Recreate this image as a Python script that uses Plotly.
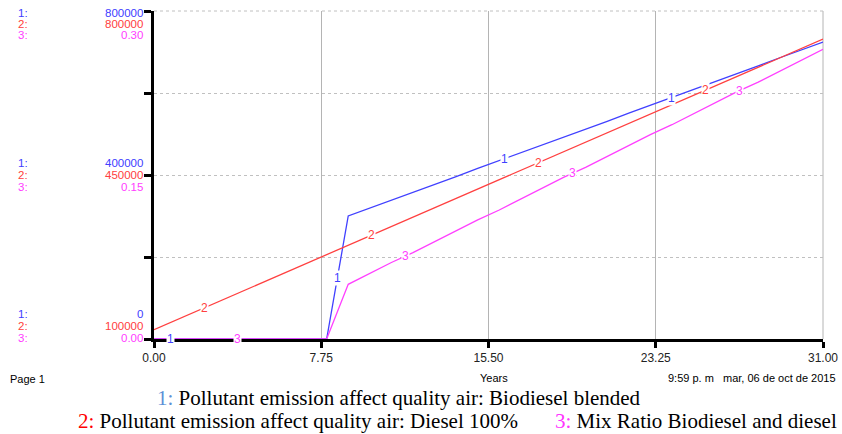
import numpy as np
import plotly.graph_objects as go

# ---------------- data ----------------
years = list(range(0, 32))
biodiesel_blended = [0, 0, 0, 0, 0, 0, 0, 0, 0,
                     300000, 319000, 339000, 358000, 377000, 396000, 416000, 435000,
                     454000, 474000, 493000, 512000, 531000, 551000, 570000, 589000,
                     609000, 628000, 647000, 666000, 686000, 705000, 724000]
diesel_100 = [120000, 140000, 160000, 180000, 200000, 220000, 240000, 260000,
              280000, 300000, 320000, 340000, 360000, 380000, 400000, 420000,
              440000, 460000, 480000, 500000, 520000, 540000, 560000, 580000,
              600000, 620000, 640000, 660000, 680000, 700000, 720000, 740000]
mix_ratio = [0, 0, 0, 0, 0, 0, 0, 0, 0,
             0.050, 0.060, 0.070, 0.079, 0.089, 0.099, 0.109, 0.118,
             0.128, 0.138, 0.148, 0.157, 0.167, 0.177, 0.187, 0.196,
             0.206, 0.216, 0.226, 0.235, 0.245, 0.255, 0.265]

x_ticks = [0, 7.75, 15.5, 23.25, 31]
x_tick_labels = ["0.00", "7.75", "15.50", "23.25", "31.00"]

y1_range = [0, 800000]
y2_range = [100000, 800000]
y3_range = [0, 0.30]
y1_labels = ["0", "400000", "800000"]
y2_labels = ["100000", "450000", "800000"]
y3_labels = ["0.00", "0.15", "0.30"]

label_years = [0.75, 8.5, 16.25, 24.0]  # positions of the "1" markers on lines
label_step = 1.57

legend1 = "Pollutant emission affect quality air: Biodiesel blended"
legend2 = "Pollutant emission affect quality air: Diesel 100%"
legend3 = "Mix Ratio Biodiesel and diesel"

# ---------------- style ----------------
C1, C2, C3 = "#4040ff", "#ff4040", "#ff40ff"
W, H = 842, 434
L, R, T, B = 154, 19, 11, 95
PW = W - L - R
PH = H - T - B
SANS = "Liberation Sans, Arial, sans-serif"
SERIF = "Liberation Serif, Times New Roman, serif"

fig = go.Figure()
fig.add_trace(go.Scatter(x=years, y=biodiesel_blended, mode="lines",
                         line=dict(color=C1, width=1.3), yaxis="y", name="1"))
fig.add_trace(go.Scatter(x=years, y=diesel_100, mode="lines",
                         line=dict(color=C2, width=1.3), yaxis="y2", name="2"))
fig.add_trace(go.Scatter(x=years, y=mix_ratio, mode="lines",
                         line=dict(color=C3, width=1.3), yaxis="y3", name="3"))

ann = []

# line number markers
series = [(biodiesel_blended, "y", C1, "1"), (diesel_100, "y2", C2, "2"), (mix_ratio, "y3", C3, "3")]
for i, (vals, yref, col, txt) in enumerate(series):
    for base in label_years:
        t = base + i * label_step
        v = float(np.interp(t, years, vals))
        ann.append(dict(x=t, y=v, xref="x", yref=yref, text=txt, showarrow=False,
                        font=dict(family=SANS, size=12, color=col),
                        bgcolor="white", borderpad=0, xanchor="center", yanchor="middle"))

# stacked axis labels
tick_vals = {"y": [y1_range[0], 400000, y1_range[1]],
             "y2": [y2_range[0], 450000, y2_range[1]],
             "y3": [y3_range[0], 0.15, y3_range[1]]}
shifts = [[25, 12, -2], [13, 0, -13], [1, -12, -24]]  # per series, per level(bottom, mid, top)
texts = [y1_labels, y2_labels, y3_labels]
cols = [C1, C2, C3]
refs = ["y", "y2", "y3"]
for s in range(3):
    for lvl in range(3):
        ann.append(dict(x=0, xref="paper", y=tick_vals[refs[s]][lvl], yref=refs[s],
                        text=texts[s][lvl], showarrow=False, xanchor="right", yanchor="middle",
                        xshift=-9, yshift=shifts[s][lvl],
                        font=dict(family=SANS, size=11.5, color=cols[s])))
        ann.append(dict(x=0, xref="paper", y=tick_vals[refs[s]][lvl], yref=refs[s],
                        text=f"{s+1}:", showarrow=False, xanchor="left", yanchor="middle",
                        xshift=16 - L, yshift=shifts[s][lvl],
                        font=dict(family=SANS, size=11.5, color=cols[s])))


def pix(px, py, text, size, family, color="black", anchor="left"):
    return dict(x=0, y=0, xref="paper", yref="paper", xshift=px - L, yshift=-(py - (T + PH)),
                text=text, showarrow=False, xanchor=anchor, yanchor="middle",
                font=dict(family=family, size=size, color=color))


ann.append(pix(8, 379, "Page 1", 11, SANS))
ann.append(pix(494, 378, "Years", 11, SANS, anchor="center"))
ann.append(pix(838, 378, "9:59 p. m&nbsp;&nbsp;&nbsp;mar, 06 de oct de 2015", 11, SANS, anchor="right"))
ann.append(pix(155, 398, f"<span style='color:#5b8fd6'>1:</span> {legend1}", 21, SERIF))
ann.append(pix(76, 421, f"<span style='color:#ff0000'>2:</span> {legend2}", 21, SERIF))
ann.append(pix(553, 421, f"<span style='color:#ff33ff'>3:</span> {legend3}", 21, SERIF))

shapes = [
    dict(type="line", xref="paper", yref="paper", x0=1, x1=1, y0=0, y1=1,
         line=dict(color="#b4b4b4", width=1), layer="below"),
    dict(type="line", xref="paper", yref="paper", x0=0, x1=1, y0=1, y1=1,
         line=dict(color="#c0c0c0", width=1, dash="dot"), layer="below"),
]

fig.update_layout(
    width=W, height=H, margin=dict(l=L, r=R, t=T, b=B, autoexpand=False),
    paper_bgcolor="white", plot_bgcolor="white", showlegend=False,
    xaxis=dict(range=[0, 31], tickvals=x_ticks, ticktext=x_tick_labels, automargin=False,
               showgrid=True, gridcolor="#b4b4b4", gridwidth=1, zeroline=False,
               showline=True, linecolor="black", linewidth=3,
               ticks="outside", ticklen=6, tickwidth=3, tickcolor="black",
               tickfont=dict(family=SANS, size=12, color="#222"), layer="below traces"),
    yaxis=dict(range=y1_range, tickvals=[0, 200000, 400000, 600000, 800000], automargin=False,
               showticklabels=False, showgrid=True, gridcolor="#c0c0c0", griddash="dot",
               zeroline=False, showline=True, linecolor="black", linewidth=3,
               ticks="outside", ticklen=7, tickwidth=3, tickcolor="black"),
    yaxis2=dict(range=y2_range, overlaying="y", visible=False, automargin=False),
    yaxis3=dict(range=y3_range, overlaying="y", visible=False, automargin=False),
    annotations=ann, shapes=shapes,
)

fig.write_html("out.html", config={"displayModeBar": False},
               post_script="document.body.style.margin='0';document.body.style.overflow='hidden';")
